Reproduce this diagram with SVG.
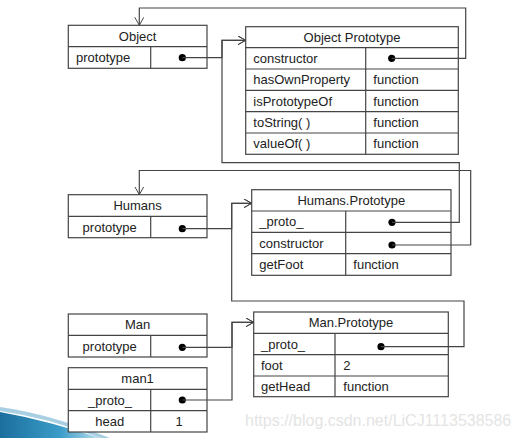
<svg xmlns="http://www.w3.org/2000/svg" width="523" height="438" viewBox="0 0 523 438">
<defs>
<marker id="arr" markerUnits="userSpaceOnUse" markerWidth="10" markerHeight="10" refX="8" refY="4.5" orient="auto">
<path d="M0,0 L8,4.5 L0,9" fill="none" stroke="#444" stroke-width="1"/>
</marker>
<linearGradient id="sw" x1="0" y1="0" x2="1" y2="0">
<stop offset="0" stop-color="#1b6f9e"/>
<stop offset="0.6" stop-color="#3a9cc8"/>
<stop offset="1" stop-color="#bfe0ef"/>
</linearGradient>
</defs>
<style>
rect.b{fill:#fff;stroke:#444;stroke-width:1.2}
line.d{stroke:#444;stroke-width:1.2}
text{font-family:"Liberation Sans",Arial,sans-serif;font-size:13px;fill:#222}
.c{text-anchor:middle}
.conn path{fill:none;stroke:#444;stroke-width:1.2}
.dot{fill:#000}
.wm{fill:#e4e4e4;font-size:16px}
</style>
<rect width="523" height="438" fill="#fff"/>
<path d="M0,407 Q50,414 110,438 L100,438 Q50,418 0,411 Z" fill="#a9cfe3"/>
<path d="M0,412 Q45,420 100,438 L0,438 Z" fill="url(#sw)"/>

<g id="Object">
<rect class="b" x="68.3" y="25.3" width="138.7" height="43"/>
<line class="d" x1="68.3" y1="46.7" x2="207" y2="46.7"/>
<line class="d" x1="150.7" y1="46.7" x2="150.7" y2="68.3"/>
<text class="c" x="137.6" y="40.5">Object</text>
<text x="76" y="62">prototype</text>
<circle class="dot" cx="182.3" cy="57.7" r="3.6"/>
</g>

<g id="ObjectPrototype">
<rect class="b" x="245.7" y="26.7" width="212.6" height="127.6"/>
<line class="d" x1="245.7" y1="47.7" x2="458.3" y2="47.7"/>
<line class="d" x1="245.7" y1="69" x2="458.3" y2="69"/>
<line class="d" x1="245.7" y1="90.3" x2="458.3" y2="90.3"/>
<line class="d" x1="245.7" y1="111.7" x2="458.3" y2="111.7"/>
<line class="d" x1="245.7" y1="133" x2="458.3" y2="133"/>
<line class="d" x1="365.7" y1="47.7" x2="365.7" y2="154.3"/>
<text class="c" x="352" y="41.7">Object Prototype</text>
<text x="253.3" y="62.8">constructor</text>
<text x="253.3" y="84.2">hasOwnProperty</text>
<text x="373.3" y="84.2">function</text>
<text x="253.3" y="105.5">isPrototypeOf</text>
<text x="373.3" y="105.5">function</text>
<text x="253.3" y="126.8">toString( )</text>
<text x="373.3" y="126.8">function</text>
<text x="253.3" y="148.2">valueOf( )</text>
<text x="373.3" y="148.2">function</text>
<circle class="dot" cx="391.7" cy="58.3" r="3.6"/>
</g>

<g id="Humans">
<rect class="b" x="68.3" y="194.7" width="138.7" height="43"/>
<line class="d" x1="68.3" y1="216.3" x2="207" y2="216.3"/>
<line class="d" x1="150.7" y1="216.3" x2="150.7" y2="237.7"/>
<text class="c" x="137.6" y="210">Humans</text>
<text class="c" x="109.7" y="231.5">prototype</text>
<circle class="dot" cx="182.3" cy="228.7" r="3.6"/>
</g>

<g id="HumansPrototype">
<rect class="b" x="251.7" y="189.7" width="199.3" height="85.6"/>
<line class="d" x1="251.7" y1="211" x2="451" y2="211"/>
<line class="d" x1="251.7" y1="232.3" x2="451" y2="232.3"/>
<line class="d" x1="251.7" y1="253.7" x2="451" y2="253.7"/>
<line class="d" x1="345.7" y1="211" x2="345.7" y2="275.3"/>
<text class="c" x="351.3" y="204.8">Humans.Prototype</text>
<text x="259.3" y="226.2">_proto_</text>
<text x="259.3" y="247.5">constructor</text>
<text x="259.3" y="269">getFoot</text>
<text x="353.3" y="269">function</text>
<circle class="dot" cx="392" cy="222.3" r="3.6"/>
<circle class="dot" cx="392" cy="245" r="3.6"/>
</g>

<g id="Man">
<rect class="b" x="68.3" y="314" width="138.7" height="43"/>
<line class="d" x1="68.3" y1="335.3" x2="207" y2="335.3"/>
<line class="d" x1="150.7" y1="335.3" x2="150.7" y2="357"/>
<text class="c" x="137.6" y="329.2">Man</text>
<text class="c" x="109.7" y="350.7">prototype</text>
<circle class="dot" cx="182.3" cy="347.3" r="3.6"/>
</g>

<g id="man1">
<rect class="b" x="68.3" y="367.7" width="138.7" height="64.3"/>
<line class="d" x1="68.3" y1="389.3" x2="207" y2="389.3"/>
<line class="d" x1="68.3" y1="410.7" x2="207" y2="410.7"/>
<line class="d" x1="150.7" y1="389.3" x2="150.7" y2="432"/>
<text class="c" x="137.6" y="383">man1</text>
<text class="c" x="110" y="404.5">_proto_</text>
<text class="c" x="109.7" y="425.8">head</text>
<text class="c" x="179" y="425.8">1</text>
<circle class="dot" cx="182.3" cy="400" r="3.6"/>
</g>

<g id="ManPrototype">
<rect class="b" x="253.7" y="312" width="194.6" height="84.7"/>
<line class="d" x1="253.7" y1="333.3" x2="448.3" y2="333.3"/>
<line class="d" x1="253.7" y1="354.7" x2="448.3" y2="354.7"/>
<line class="d" x1="253.7" y1="376" x2="448.3" y2="376"/>
<line class="d" x1="335" y1="333.3" x2="335" y2="396.7"/>
<text class="c" x="351" y="327.2">Man.Prototype</text>
<text x="261" y="348.5">_proto_</text>
<text x="261" y="369.8">foot</text>
<text x="343.3" y="369.8">2</text>
<text x="261" y="390.8">getHead</text>
<text x="343.3" y="390.8">function</text>
<circle class="dot" cx="381" cy="346.7" r="3.6"/>
</g>

<g id="connectors" class="conn">
<path d="M182.3,57.7 H222 V40.3 H245.7" marker-end="url(#arr)"/>
<path d="M391.7,58.3 H465.7 V8 H139.3 V25.3" marker-end="url(#arr)"/>
<path d="M392,222.3 H459.3 V162.7 H222 V40.3 H245.7" marker-end="url(#arr)"/>
<path d="M392,245 H470.7 V170.5 H139.3 V194.7" marker-end="url(#arr)"/>
<path d="M182.3,228.7 H231.7 V203.3 H251.7" marker-end="url(#arr)"/>
<path d="M381,346.7 H464 V301 H231.7 V203.3 H251.7" marker-end="url(#arr)"/>
<path d="M182.3,347.3 H232 V322.3 H253.7" marker-end="url(#arr)"/>
<path d="M182.3,400 H232 V322.3 H253.7" marker-end="url(#arr)"/>
</g>

<text class="wm" x="245" y="426">https://blog.csdn.net/LiCJ1113538586</text>
</svg>
